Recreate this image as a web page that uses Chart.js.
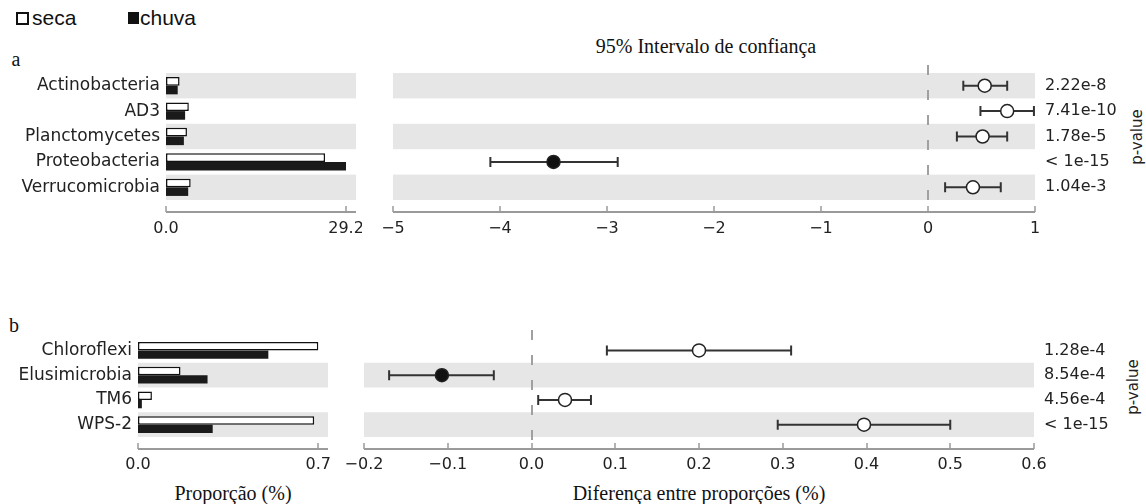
<!DOCTYPE html>
<html><head><meta charset="utf-8">
<script src="https://cdn.jsdelivr.net/npm/chart.js@4.4.0/dist/chart.umd.min.js"></script>
<style>
body{margin:0;background:#fff;width:1146px;height:504px;overflow:hidden;position:relative;}
canvas{position:absolute;}
.txt{position:absolute;white-space:nowrap;color:#111;line-height:1;}
.serif{font-family:"Liberation Serif","DejaVu Serif",serif;font-size:20px;}
.c{transform:translate(-50%,-50%);}
.rot{transform:translate(-50%,-50%) rotate(-90deg);font-family:"DejaVu Sans",sans-serif;font-size:15px;color:#222;}
.leg{font-family:"Liberation Sans",Arial,sans-serif;font-size:21px;color:#111;}
.sq{position:absolute;box-sizing:border-box;}
</style></head><body>
<div class="sq" style="left:16px;top:12px;width:13px;height:13px;border:2px solid #111;background:#fff"></div>
<div class="txt leg" style="left:32px;top:7px;">seca</div>
<div class="sq" style="left:128px;top:12px;width:11px;height:12px;background:#111"></div>
<div class="txt leg" style="left:140px;top:7px;">chuva</div>
<div class="txt serif c" style="left:706px;top:46px;">95% Intervalo de confiança</div>
<div class="txt serif c" style="left:16px;top:59px;">a</div>
<div class="txt serif c" style="left:14px;top:325px;">b</div>
<div class="txt serif c" style="left:233px;top:493px;">Proporção (%)</div>
<div class="txt serif c" style="left:699px;top:493px;">Diferença entre proporções (%)</div>
<div class="txt rot" style="left:1137px;top:137px;">p-value</div>
<div class="txt rot" style="left:1133px;top:387px;">p-value</div>

<canvas id="aL" style="left:0px;top:60px" width="362" height="190"></canvas>
<canvas id="aR" style="left:370px;top:60px" width="776" height="190"></canvas>
<canvas id="bL" style="left:0px;top:325px" width="334" height="165"></canvas>
<canvas id="bR" style="left:345px;top:325px" width="801" height="165"></canvas>
<script>
// ---- data ----
const catsA  = ['Actinobacteria','AD3','Planctomycetes','Proteobacteria','Verrucomicrobia'];
const secaA  = [2.2, 3.7, 3.4, 25.8, 4.0];
const chuvaA = [1.9, 3.1, 2.9, 29.2, 3.6];
const diffA  = [0.53, 0.74, 0.51, -3.50, 0.42];
const lowA   = [0.33, 0.49, 0.27, -4.09, 0.16];
const highA  = [0.74, 0.99, 0.74, -2.90, 0.68];
const pvalA  = ['2.22e-8','7.41e-10','1.78e-5','< 1e-15','1.04e-3'];
const ticksAL = [0, 29.2];
const ticksAR = [-5,-4,-3,-2,-1,0,1];

const catsB  = ['Chloroflexi','Elusimicrobia','TM6','WPS-2'];
const secaB  = [0.700, 0.165, 0.054, 0.684];
const chuvaB = [0.506, 0.270, 0.015, 0.290];
const diffB  = [0.200, -0.107, 0.040, 0.397];
const lowB   = [0.090, -0.170, 0.008, 0.294];
const highB  = [0.310, -0.045, 0.071, 0.500];
const pvalB  = ['1.28e-4','8.54e-4','4.56e-4','< 1e-15'];
const ticksBL = [0, 0.7];
const ticksBR = [-0.2,-0.1,0,0.1,0.2,0.3,0.4,0.5,0.6];

// ---- styles ----
const FONT = {family:'"DejaVu Sans", sans-serif', size:16};
const CATFONT = {family:'"DejaVu Sans", sans-serif', size:17};
const BAND = '#e6e6e6';
const AXIS = '#9a9a9a';
const minus = s => s.replace('-', '\u2212');
const noPad = s => { s.paddingLeft = 0; s.paddingRight = 0; s.paddingTop = 0; s.paddingBottom = 0; };

function bands(){
  return {id:'bands', beforeDatasetsDraw(chart){
    const {ctx, chartArea:a} = chart; const y = chart.scales.y;
    const n = y.getLabels().length; const slot = (a.bottom-a.top)/n;
    ctx.save(); ctx.fillStyle = BAND;
    for(let i=0;i<n;i++){ if((n-1-i)%2===0){ const c=y.getPixelForValue(i); ctx.fillRect(a.left, c-slot/2, a.right-a.left, slot);} }
    ctx.restore();
  }};
}
function axisLine(offset){
  return {id:'axisLine', afterDraw(chart){
    const {ctx, chartArea:a} = chart; const x = chart.scales.x; const yy = a.bottom+offset;
    ctx.save(); ctx.strokeStyle=AXIS; ctx.lineWidth=2;
    ctx.beginPath(); ctx.moveTo(a.left, yy); ctx.lineTo(a.right, yy); ctx.stroke();
    ctx.lineWidth=1.5;
    x.ticks.forEach(t=>{ const px=Math.round(x.getPixelForValue(t.value)); ctx.beginPath(); ctx.moveTo(px,yy); ctx.lineTo(px,yy-6); ctx.stroke(); });
    ctx.restore();
  }};
}
function ci(low, high, offset){
  return {id:'ci', beforeDatasetsDraw(chart){
    const {ctx, chartArea:a} = chart; const x=chart.scales.x, y=chart.scales.y;
    const x0 = Math.round(x.getPixelForValue(0));
    ctx.save(); ctx.strokeStyle='#a0a0a0'; ctx.lineWidth=2; ctx.setLineDash([10,15]);
    ctx.beginPath(); ctx.moveTo(x0, a.top-8); ctx.lineTo(x0, a.bottom+offset); ctx.stroke();
    ctx.setLineDash([]); ctx.strokeStyle='#333'; ctx.lineWidth=2;
    low.forEach((lo,i)=>{
      const py=y.getPixelForValue(i), x1=x.getPixelForValue(lo), x2=x.getPixelForValue(high[i]);
      ctx.beginPath(); ctx.moveTo(x1,py); ctx.lineTo(x2,py);
      ctx.moveTo(x1,py-5); ctx.lineTo(x1,py+5); ctx.moveTo(x2,py-5); ctx.lineTo(x2,py+5); ctx.stroke();
    });
    ctx.restore();
  }};
}

function barChart(id, cats, seca, chuva, ticks, max, fmt, yWidth, xHeight, padTop, padRight, tickPad){
  return new Chart(document.getElementById(id), {
    type:'bar',
    data:{labels:cats, datasets:[
      {label:'seca', data:seca, backgroundColor:'#fff', borderColor:'#111', borderWidth:1.5, borderSkipped:false, categoryPercentage:0.68, barPercentage:1},
      {label:'chuva', data:chuva, backgroundColor:'#1a1a1a', borderColor:'#1a1a1a', borderWidth:0, categoryPercentage:0.68, barPercentage:1}
    ]},
    options:{
      indexAxis:'y', responsive:false, animation:false, devicePixelRatio:1,
      layout:{padding:{top:padTop, right:padRight, left:0, bottom:0}},
      plugins:{legend:{display:false}, tooltip:{enabled:false}},
      scales:{
        x:{type:'linear', min:0, max:max,
           afterBuildTicks:s=>{s.ticks = ticks.map(v=>({value:v}));},
           afterFit:s=>{s.height=xHeight; noPad(s);},
           ticks:{callback:v=>fmt(v), font:FONT, color:'#222', padding:tickPad, autoSkip:false, maxRotation:0},
           grid:{display:false, drawTicks:false}, border:{display:false}},
        y:{afterFit:s=>{s.width=yWidth; noPad(s);},
           ticks:{font:CATFONT, color:'#222', padding:6, autoSkip:false},
           grid:{display:false, drawTicks:false}, border:{display:false}}
      }
    },
    plugins:[bands(), axisLine(12)]
  });
}

function ciChart(id, cats, diff, low, high, pvals, ticks, min, max, fmt, y2Width, xHeight, padTop, padLeft, tickPad){
  return new Chart(document.getElementById(id), {
    type:'scatter',
    data:{datasets:[{data: diff.map((v,i)=>({x:v, y:cats[i]})),
      pointRadius:6.5, pointHoverRadius:6.5, pointBorderWidth:1.5, pointBorderColor:'#222',
      pointBackgroundColor: c => (c.raw && c.raw.x < 0) ? '#111' : '#fff', clip:false}]},
    options:{
      responsive:false, animation:false, devicePixelRatio:1,
      layout:{padding:{top:padTop, left:padLeft, right:0, bottom:0}},
      plugins:{legend:{display:false}, tooltip:{enabled:false}},
      scales:{
        x:{type:'linear', min:min, max:max,
           afterBuildTicks:s=>{s.ticks = ticks.map(v=>({value:v}));},
           afterFit:s=>{s.height=xHeight; noPad(s);},
           ticks:{callback:v=>fmt(v), font:FONT, color:'#222', padding:tickPad, autoSkip:false, maxRotation:0},
           grid:{display:false, drawTicks:false}, border:{display:false}},
        y:{type:'category', labels:cats, offset:true, display:false, afterFit:noPad},
        y2:{type:'category', labels:pvals, offset:true, position:'right',
           afterFit:s=>{s.width=y2Width; noPad(s);},
           ticks:{font:FONT, color:'#222', padding:10, autoSkip:false},
           grid:{display:false, drawTicks:false}, border:{display:false}}
      }
    },
    plugins:[bands(), ci(low, high, 12), axisLine(12)]
  });
}

barChart('aL', catsA, secaA, chuvaA, ticksAL, 30.82, v=>Number(v).toFixed(1), 166, 50, 13, 6, 19);
ciChart('aR', catsA, diffA, lowA, highA, pvalA, ticksAR, -5, 1, v=>minus(String(v)), 111, 50, 13, 23, 19);
barChart('bL', catsB, secaB, chuvaB, ticksBL, 0.7376, v=>Number(v).toFixed(1), 138, 53, 13, 6, 18);
ciChart('bR', catsB, diffB, lowB, highB, pvalB, ticksBR, -0.2, 0.6, v=>minus(Number(v).toFixed(1)), 112, 53, 13, 19, 18);
</script>
</body></html>
